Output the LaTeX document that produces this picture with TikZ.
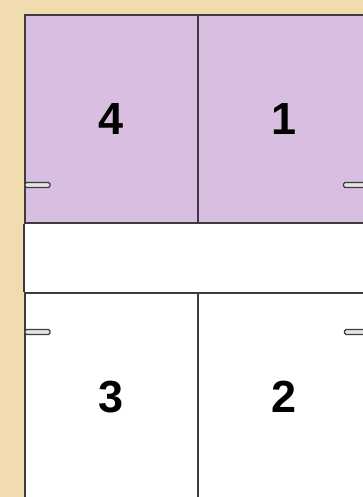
\documentclass[tikz,border=0pt]{standalone}
\usepackage{fontspec}
\setmainfont{Liberation Sans}
\usepackage{xcolor}
\usepackage{tikz}
\usetikzlibrary{positioning,calc}

\definecolor{wallbg}{HTML}{F1DCB0}
\definecolor{doorpurple}{HTML}{D8BEE0}
\definecolor{doorline}{HTML}{3E3B40}

\begin{document}
\begin{tikzpicture}[x=1pt, y=-1pt,
    door/.style={draw=doorline, line width=2pt, minimum width=173pt, minimum height=208pt,
      inner sep=0pt, font=\fontsize{45}{45}\selectfont\bfseries},
    pull/.style={draw=doorline, fill=white!90!black, line width=1.4pt, rounded corners=1.5pt,
      minimum width=25pt, minimum height=5pt, inner sep=0pt}]
  \clip (0,0) rectangle (363,497);
  \fill [wallbg] (0,0) rectangle (363,497);
  % upper doors
  \node [door, fill=doorpurple] at (111.5,119) (D4) {4};
  \node [door, fill=doorpurple] at (284.5,119) (D1) {1};
  % open shelf between
  \fill [white] (D4.south west) rectangle ($(D1.south east)+(0,70)$);
  % lower doors
  \node [door, fill=white] at (111.5,397) (D3) {3};
  \node [door, fill=white] at (284.5,397) (D2) {2};
  \draw [doorline, line width=2pt] (D4.south west) -- (D3.north west);
  % handles
  \node [pull] at (37.5,185) (P4) {};
  \node [pull] at (356,185) (P1) {};
  \node [pull] at (37.5,332) (P3) {};
  \node [pull] at (357,332) (P2) {};
\end{tikzpicture}
\end{document}
